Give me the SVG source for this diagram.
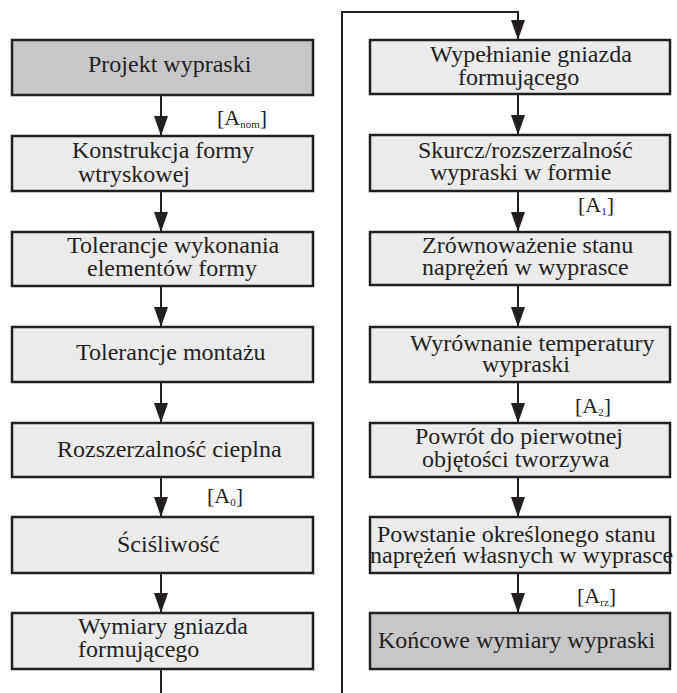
<svg xmlns="http://www.w3.org/2000/svg" width="677" height="693" viewBox="0 0 677 693">
<style>
.box{fill:#ebebeb;stroke:#231f20;stroke-width:2.5}
.dark{fill:#c7c7c9}
.t{font-family:"Liberation Serif","Times New Roman",serif;font-size:24px;fill:#231f20}
.l{font-family:"Liberation Serif","Times New Roman",serif;font-size:22px;fill:#231f20}
.s{font-size:11px}
.c{fill:none;stroke:#231f20;stroke-width:2}
</style>
<defs>
<marker id="ah" viewBox="0 0 20 14" refX="20" refY="7" markerWidth="20" markerHeight="14" markerUnits="userSpaceOnUse" orient="auto">
<path d="M0,0 L20,7 L0,14 Z" fill="#231f20"/>
</marker>
</defs>
<rect width="677" height="693" fill="#ffffff"/>
<g id="connectors">
<path class="c" d="M161,95 V136" marker-end="url(#ah)"/>
<path class="c" d="M161,191 V232" marker-end="url(#ah)"/>
<path class="c" d="M161,286 V327" marker-end="url(#ah)"/>
<path class="c" d="M161,382 V423" marker-end="url(#ah)"/>
<path class="c" d="M161,477 V517" marker-end="url(#ah)"/>
<path class="c" d="M161,573 V613" marker-end="url(#ah)"/>
<path class="c" d="M161,669 V693"/>
<path class="c" d="M342,693 V12 H518 V40" marker-end="url(#ah)"/>
<path class="c" d="M518,94 V135" marker-end="url(#ah)"/>
<path class="c" d="M518,191 V232" marker-end="url(#ah)"/>
<path class="c" d="M518,285 V327" marker-end="url(#ah)"/>
<path class="c" d="M518,382 V423" marker-end="url(#ah)"/>
<path class="c" d="M518,477 V517" marker-end="url(#ah)"/>
<path class="c" d="M518,573 V613" marker-end="url(#ah)"/>
<text class="l" x="217" y="125">[A<tspan class="s" dy="3">nom</tspan><tspan dy="-3">]</tspan></text>
<text class="l" x="207" y="503">[A<tspan class="s" dy="3">0</tspan><tspan dy="-3">]</tspan></text>
<text class="l" x="578" y="212">[A<tspan class="s" dy="3">1</tspan><tspan dy="-3">]</tspan></text>
<text class="l" x="575" y="413">[A<tspan class="s" dy="3">2</tspan><tspan dy="-3">]</tspan></text>
<text class="l" x="577" y="603">[A<tspan class="s" dy="3">rz</tspan><tspan dy="-3">]</tspan></text>
</g>
<g id="n1"><rect class="box dark" x="12" y="40" width="301" height="55"/><text class="t" x="88" y="72">Projekt wypraski</text></g>
<g id="n2"><rect class="box" x="12" y="136" width="301" height="55"/><text class="t" x="72" y="158">Konstrukcja formy</text><text class="t" x="78" y="182">wtryskowej</text></g>
<g id="n3"><rect class="box" x="12" y="232" width="301" height="54"/><text class="t" x="67" y="253">Tolerancje wykonania</text><text class="t" x="87" y="276">elementów formy</text></g>
<g id="n4"><rect class="box" x="12" y="327" width="301" height="55"/><text class="t" x="76" y="360">Tolerancje montażu</text></g>
<g id="n5"><rect class="box" x="12" y="423" width="301" height="54"/><text class="t" x="57" y="457">Rozszerzalność cieplna</text></g>
<g id="n6"><rect class="box" x="12" y="517" width="301" height="56"/><text class="t" x="117" y="552">Ściśliwość</text></g>
<g id="n7"><rect class="box" x="12" y="613" width="301" height="56"/><text class="t" x="78" y="634">Wymiary gniazda</text><text class="t" x="78" y="657">formującego</text></g>
<g id="n8"><rect class="box" x="370" y="40" width="300" height="54"/><text class="t" x="430" y="62">Wypełnianie gniazda</text><text class="t" x="458" y="85">formującego</text></g>
<g id="n9"><rect class="box" x="370" y="135" width="300" height="56"/><text class="t" x="418" y="158">Skurcz/rozszerzalność</text><text class="t" x="430" y="180">wypraski w formie</text></g>
<g id="n10"><rect class="box" x="370" y="232" width="300" height="53"/><text class="t" x="422" y="253">Zrównoważenie stanu</text><text class="t" x="422" y="275">naprężeń w wyprasce</text></g>
<g id="n11"><rect class="box" x="370" y="327" width="300" height="55"/><text class="t" x="410" y="351">Wyrównanie temperatury</text><text class="t" x="482" y="372">wypraski</text></g>
<g id="n12"><rect class="box" x="370" y="423" width="300" height="54"/><text class="t" x="415" y="444">Powrót do pierwotnej</text><text class="t" x="422" y="467">objętości tworzywa</text></g>
<g id="n13"><rect class="box" x="370" y="517" width="300" height="56"/><text class="t" x="377" y="542">Powstanie określonego stanu</text><text class="t" x="370" y="563">naprężeń własnych w wyprasce</text></g>
<g id="n14"><rect class="box dark" x="370" y="613" width="300" height="56"/><text class="t" x="378" y="648">Końcowe wymiary wypraski</text></g>
</svg>
